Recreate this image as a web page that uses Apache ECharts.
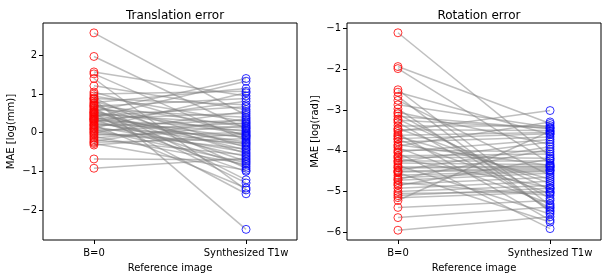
<!DOCTYPE html>
<html>
<head>
<meta charset="utf-8">
<script src="https://cdn.jsdelivr.net/npm/echarts@6/dist/echarts.min.js"></script>
<style>
  html, body { margin: 0; padding: 0; background: #fff; }
  #chart { width: 611px; height: 278px; }
</style>
</head>
<body>
<div id="chart"></div>
<script>
const xLabels = ['B=0', 'Synthesized T1w'];
const panelTitles = ['Translation error', 'Rotation error'];
const yNames = ['MAE [log(mm)]', 'MAE [log(rad)]'];

// translation error, one entry per subject
const transB0 = [2.58, 1.97, 1.57, 1.52, 1.40, 1.21, 1.05, 1.00, 0.95, 0.90,
  0.88, 0.86, 0.82, 0.78, 0.75, 0.72, 0.70, 0.68, 0.66, 0.63,
  0.60, 0.58, 0.55, 0.53, 0.52, 0.50, 0.48, 0.46, 0.44, 0.42,
  0.40, 0.38, 0.36, 0.35, 0.34, 0.32, 0.30, 0.28, 0.25, 0.22,
  0.20, 0.18, 0.15, 0.12, 0.10, 0.08, 0.05, 0.02, 0.00, -0.03,
  -0.06, -0.10, -0.14, -0.18, -0.22, -0.25, -0.28, -0.32, -0.68, -0.92];
const transSyn = [0.45, 0.10, 0.95, -0.20, -1.48, 0.60, -0.08, 1.07, 0.28, -0.92,
  0.72, -2.50, -0.38, 1.14, -1.22, 0.15, -0.54, 0.88, -0.06, -1.30,
  0.40, -0.74, 1.40, 0.03, -0.45, -1.58, 0.22, -0.30, 0.67, -0.87,
  1.33, -0.13, 0.50, -1.00, -0.24, 0.12, -0.62, 0.81, -0.34, 0.06,
  -1.43, 0.32, -0.50, 1.03, -0.10, -0.78, 0.25, -0.42, 0.55, -0.27,
  0.00, -0.82, 0.18, -0.58, 0.36, -0.16, -0.97, -0.03, -0.70, -0.66];

// rotation error, one entry per subject
const rotB0 = [-1.10, -1.93, -1.98, -2.50, -2.56, -2.66, -2.76, -2.87, -2.97, -3.05,
  -3.09, -3.15, -3.22, -3.25, -3.30, -3.38, -3.45, -3.48, -3.52, -3.58,
  -3.62, -3.65, -3.70, -3.72, -3.78, -3.85, -3.88, -3.92, -3.98, -4.02,
  -4.05, -4.12, -4.15, -4.18, -4.24, -4.26, -4.30, -4.36, -4.40, -4.42,
  -4.48, -4.50, -4.52, -4.54, -4.60, -4.66, -4.70, -4.72, -4.78, -4.82,
  -4.85, -4.92, -5.00, -5.05, -5.10, -5.15, -5.22, -5.39, -5.64, -5.95];
const rotSyn = [-4.13, -3.33, -4.30, -5.34, -3.60, -5.50, -4.60, -3.42, -5.46, -3.84,
  -5.17, -3.46, -4.95, -3.44, -5.41, -3.38, -4.80, -3.50, -3.01, -5.70,
  -3.55, -4.70, -3.58, -5.05, -3.66, -4.36, -3.29, -5.30, -4.02, -3.72,
  -5.91, -4.08, -4.18, -4.90, -4.24, -3.78, -4.34, -5.55, -4.38, -4.40,
  -3.90, -4.42, -4.46, -5.75, -4.48, -4.50, -3.96, -4.55, -5.10, -4.65,
  -4.20, -4.75, -4.85, -5.00, -4.92, -5.02, -3.52, -5.22, -5.38, -5.62];

const transTicks = [-2, -1, 0, 1, 2];
const rotTicks = [-6, -5, -4, -3, -2, -1];

const font = 'DejaVu Sans';

const chart = echarts.init(document.getElementById('chart'), null, { renderer: 'canvas' });

function xAxisFor(i) {
  return {
    type: 'value', gridIndex: i, min: -0.335, max: 1.335,
    name: 'Reference image', nameLocation: 'middle', nameGap: 23,
    nameTextStyle: { fontFamily: font, fontSize: 10, color: '#000' },
    axisLine: { show: false, onZero: false },
    splitLine: { show: false },
    axisTick: { customValues: [0, 1], length: 4, lineStyle: { color: '#000' } },
    axisLabel: {
      customValues: [0, 1], margin: 8,
      fontFamily: font, fontSize: 10, color: '#000',
      formatter: v => xLabels[Math.round(v)]
    }
  };
}

function yAxisFor(i, min, max, ticks) {
  return {
    type: 'value', gridIndex: i, min: min, max: max,
    name: yNames[i], nameLocation: 'middle', nameGap: 27, nameRotate: 90,
    nameTextStyle: { fontFamily: font, fontSize: 10, color: '#000' },
    axisLine: { show: false, onZero: false },
    splitLine: { show: false },
    axisTick: { customValues: ticks, length: 4, lineStyle: { color: '#000' } },
    axisLabel: {
      customValues: ticks, margin: 6,
      fontFamily: font, fontSize: 10, color: '#000',
      formatter: v => (v < 0 ? '\u2212' + Math.abs(v) : String(v))
    }
  };
}

function pairLines(i, a, b) {
  return {
    type: 'lines', coordinateSystem: 'cartesian2d',
    xAxisIndex: i, yAxisIndex: i, z: 2,
    lineStyle: { color: 'rgba(128,128,128,0.5)', width: 1.5, opacity: 1 },
    data: a.map((v, k) => ({ coords: [[0, v], [1, b[k]]] }))
  };
}

function dots(i, x, vals, color) {
  return {
    type: 'scatter', xAxisIndex: i, yAxisIndex: i, z: 3,
    symbol: 'circle', symbolSize: 8,
    itemStyle: { color: 'rgba(0,0,0,0)', borderColor: color, borderWidth: 1 },
    data: vals.map(v => [x, v])
  };
}

const option = {
  animation: false,
  backgroundColor: '#fff',
  title: [
    { text: panelTitles[0], left: 170, top: 5, textAlign: 'center',
      textStyle: { fontFamily: font, fontSize: 12, fontWeight: 'normal', color: '#000' } },
    { text: panelTitles[1], left: 474, top: 5, textAlign: 'center',
      textStyle: { fontFamily: font, fontSize: 12, fontWeight: 'normal', color: '#000' } }
  ],
  grid: [
    { left: 43, right: 314, top: 23, bottom: 38, show: true, borderColor: '#000', borderWidth: 1, backgroundColor: 'transparent' },
    { left: 347, right: 10, top: 23, bottom: 38, show: true, borderColor: '#000', borderWidth: 1, backgroundColor: 'transparent' }
  ],
  xAxis: [xAxisFor(0), xAxisFor(1)],
  yAxis: [
    yAxisFor(0, -2.775, 2.835, transTicks),
    yAxisFor(1, -6.19, -0.86, rotTicks)
  ],
  series: [
    pairLines(0, transB0, transSyn),
    dots(0, 0, transB0, '#ff0000'),
    dots(0, 1, transSyn, '#0000ff'),
    pairLines(1, rotB0, rotSyn),
    dots(1, 0, rotB0, '#ff0000'),
    dots(1, 1, rotSyn, '#0000ff')
  ]
};

chart.setOption(option);
window.addEventListener('resize', () => chart.resize());
</script>
</body>
</html>
